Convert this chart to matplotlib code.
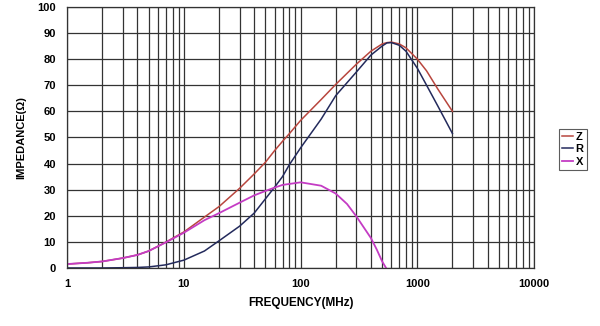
import numpy as np
import matplotlib.pyplot as plt
from matplotlib.ticker import FixedLocator, NullFormatter

# frequency points in MHz
freq = [1, 1.5, 2, 3, 4, 5, 7, 10, 15, 20, 30, 40, 50, 60, 70, 80, 100, 150,
        200, 300, 400, 500, 550, 600, 700, 800, 1000, 1200, 1500, 2000]
z_vals = [1.5, 2.0, 2.5, 3.8, 5.0, 6.5, 9.9, 13.8, 19.5, 23.5, 30.5, 36.0,
          40.5, 45.0, 48.5, 51.4, 56.5, 64.5, 70.3, 78.0, 83.0, 85.8, 86.3,
          86.5, 85.8, 84.3, 80.0, 75.5, 68.5, 60.0]
r_vals = [0.0, 0.0, 0.0, 0.1, 0.2, 0.4, 1.2, 3.0, 6.5, 10.4, 16.0, 21.0,
          26.5, 31.0, 35.0, 39.5, 46.0, 57.0, 66.0, 75.0, 81.5, 85.0, 86.2,
          86.3, 85.3, 83.0, 76.5, 70.0, 62.0, 51.5]
freq_x = [1, 1.5, 2, 3, 4, 5, 7, 10, 15, 20, 30, 40, 50, 60, 70, 100, 150,
          200, 250, 300, 400, 450, 500, 540]
x_vals = [1.5, 2.0, 2.5, 3.8, 5.0, 6.5, 9.8, 13.5, 18.3, 21.0, 25.0, 27.8,
          29.5, 30.8, 31.8, 32.8, 31.5, 28.5, 24.5, 19.8, 11.5, 7.0, 2.5, 0.0]

x_ticks = [1, 10, 100, 1000, 10000]
x_ticklabels = ['1', '10', '100', '1000', '10000']
y_ticks = [0, 10, 20, 30, 40, 50, 60, 70, 80, 90, 100]

plt.rcParams['font.family'] = ['Liberation Sans', 'DejaVu Sans']
plt.rcParams['font.weight'] = 'bold'

fig = plt.figure(figsize=(6, 3.26), dpi=100)
ax = fig.add_axes([0.112, 0.178, 0.778, 0.801])

ax.plot(freq, z_vals, color='#b8463e', lw=1.1, label='Z')
ax.plot(freq, r_vals, color='#232a5c', lw=1.1, label='R')
ax.plot(freq_x, x_vals, color='#c43cc4', lw=1.3, label='X')

ax.set_xscale('log')
ax.set_xlim(1, 10000)
ax.set_ylim(0, 100)
ax.set_xticks(x_ticks)
ax.set_xticklabels(x_ticklabels)
minors = [m * 10 ** e for e in range(4) for m in range(2, 10)]
ax.xaxis.set_minor_locator(FixedLocator(minors))
ax.xaxis.set_minor_formatter(NullFormatter())
ax.set_yticks(y_ticks)

ax.grid(True, which='both', axis='x', color='#333333', lw=0.9)
ax.grid(True, which='major', axis='y', color='#333333', lw=0.9)
ax.set_axisbelow(True)
for s in ax.spines.values():
    s.set_color('#333333')
    s.set_linewidth(0.9)

ax.tick_params(which='both', length=0, labelsize=8, pad=8)
for lab in ax.get_xticklabels() + ax.get_yticklabels():
    lab.set_fontweight('bold')

ax.set_xlabel('FREQUENCY(MHz)', fontsize=8.5, fontweight='bold', labelpad=6)
ax.set_ylabel('IMPEDANCE(Ω)', fontsize=8, fontweight='bold', labelpad=8)

leg = fig.legend(loc='upper left', bbox_to_anchor=(0.922, 0.622), fontsize=8,
                 handlelength=1.0, handletextpad=0.2, borderpad=0.3,
                 labelspacing=0.2, fancybox=False, frameon=True)
leg.get_frame().set_edgecolor('#333333')
leg.get_frame().set_linewidth(0.8)
for t in leg.get_texts():
    t.set_fontweight('bold')

plt.savefig('out.png', dpi=100)
